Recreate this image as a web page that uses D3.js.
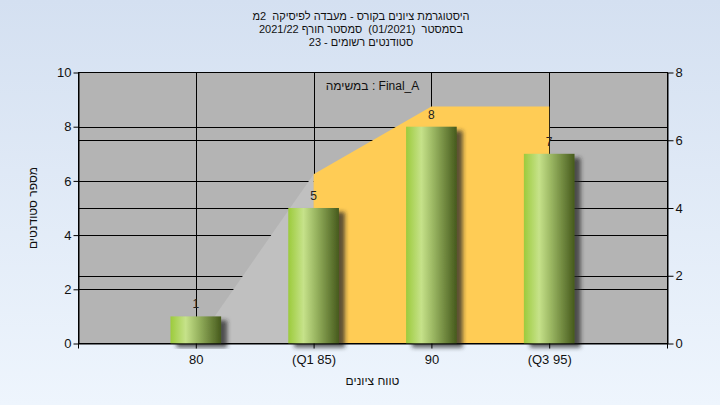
<!DOCTYPE html>
<html><head><meta charset="utf-8">
<script src="https://cdn.jsdelivr.net/npm/d3@7"></script>
<style>
html,body{margin:0;padding:0;}
svg{display:block;}
text{font-family:"Liberation Sans",Arial,sans-serif;white-space:pre;}
</style></head>
<body>
<svg id="chart" width="720" height="405"></svg>
<script>
// ---- data ----
const titleLines = [
  "היסטוגרמת ציונים בקורס - מעבדה לפיסיקה  2מ",
  "בסמסטר  (01/2021)  סמסטר חורף 2021/22",
  "סטודנטים רשומים - 23"
];
const legendText = "במשימה : Final_A";
const yTitle = "מספר סטודנטים";
const xTitle = "טווח ציונים";
const categories = [80, 85, 90, 95];
const tickLabels = ["80", "(Q1 85)", "90", "(Q3 95)"];
const counts = [1, 5, 8, 7];             // bars, left axis
const rangeValues = [0, 5, 7, 7];        // area, right axis
const q1 = 85, q3 = 95;
const xDomain = [75, 100];
const leftTicks = [0, 2, 4, 6, 8, 10];
const rightTicks = [0, 2, 4, 6, 8];

// ---- layout ----
const W = 720, H = 405;
const L = 78, R = 667, T = 72.5, B = 343.5;
const svg = d3.select("#chart");
const defs = svg.append("defs");

const bg = defs.append("linearGradient").attr("id","bg").attr("x1",0).attr("y1",0).attr("x2",0).attr("y2",1);
bg.append("stop").attr("offset","0%").attr("stop-color","#d4e0f1");
bg.append("stop").attr("offset","100%").attr("stop-color","#eef5fd");

const bar = defs.append("linearGradient").attr("id","bar").attr("x1",0).attr("y1",0).attr("x2",1).attr("y2",0);
[["0%","#9ccb3c"],["30%","#c6e28a"],["55%","#98b460"],["100%","#465a1c"]].forEach(s=>
  bar.append("stop").attr("offset",s[0]).attr("stop-color",s[1]));

const f = defs.append("filter").attr("id","sh").attr("x","-20%").attr("y","-20%").attr("width","160%").attr("height","140%");
f.append("feDropShadow").attr("dx",6).attr("dy",4).attr("stdDeviation",2.2)
  .attr("flood-color","#2a2a2a").attr("flood-opacity",0.75);

svg.append("rect").attr("width",W).attr("height",H).attr("fill","url(#bg)");

const x = d3.scaleLinear().domain(xDomain).range([L, R]);
const yL = d3.scaleLinear().domain([0, 10]).range([B, T]);
const yR = d3.scaleLinear().domain([0, 8]).range([B, T]);

// plot background
svg.append("rect").attr("x",L).attr("y",T).attr("width",R-L).attr("height",B-T).attr("fill","#b4b4b4");

// gridlines
const g = svg.append("g").attr("stroke","#000").attr("stroke-width",1);
leftTicks.slice(1,-1).forEach(v=>g.append("line").attr("x1",L).attr("x2",R)
  .attr("y1",Math.round(yL(v))+0.5).attr("y2",Math.round(yL(v))+0.5));
rightTicks.slice(1,-1).forEach(v=>g.append("line").attr("x1",L).attr("x2",R)
  .attr("y1",Math.round(yR(v))+0.5).attr("y2",Math.round(yR(v))+0.5));
categories.forEach(c=>g.append("line").attr("y1",T).attr("y2",B)
  .attr("x1",Math.round(x(c))+0.5).attr("x2",Math.round(x(c))+0.5));

// range area (right axis)
const pts = categories.map((c,i)=>({c, v:rangeValues[i]}));
const area = d3.area().x(d=>x(d.c)).y0(yR(0)).y1(d=>yR(d.v));
const outside = pts.filter(d=>d.c<=q1);
const inside = pts.filter(d=>d.c>=q1 && d.c<=q3);
svg.append("path").attr("d",area(outside)).attr("fill","#c0c0c0");
svg.append("path").attr("d",area(inside)).attr("fill","#ffcc55");

// border
svg.append("rect").attr("x",L+0.5).attr("y",T).attr("width",R-L).attr("height",B-T)
  .attr("fill","none").attr("stroke","#000");

// bars
const bw = (x(85)-x(80))*0.43;
svg.append("g").selectAll("rect").data(categories).join("rect")
  .attr("x",d=>x(d)-bw/2).attr("y",(d,i)=>yL(counts[i]))
  .attr("width",bw).attr("height",(d,i)=>yL(0)-yL(counts[i]))
  .attr("fill","url(#bar)").attr("filter","url(#sh)");

// bar labels
svg.append("g").selectAll("text").data(categories).join("text")
  .attr("x",d=>x(d)).attr("y",(d,i)=>yL(counts[i])-8)
  .attr("text-anchor","middle").attr("font-size",12).attr("fill","#222")
  .text((d,i)=>counts[i]);

// legend
svg.append("text").attr("x",(L+R)/2).attr("y",90).attr("text-anchor","middle")
  .attr("font-size",12).attr("fill","#111").text(legendText);

// axes
function style(sel){
  sel.selectAll("text").attr("font-size",13).attr("fill","#111").attr("font-family","Liberation Sans, Arial, sans-serif");
  sel.selectAll("line,path").attr("stroke","#000");
}
svg.append("g").attr("transform",`translate(${L+0.5},0)`)
  .call(d3.axisLeft(yL).tickValues(leftTicks).tickFormat(d3.format("d")).tickSize(5).tickSizeOuter(0).tickPadding(2))
  .call(style);
svg.append("g").attr("transform",`translate(${R+0.5},0)`)
  .call(d3.axisRight(yR).tickValues(rightTicks).tickFormat(d3.format("d")).tickSize(6).tickSizeOuter(0).tickPadding(2))
  .call(style);
const xt = [xDomain[0], ...categories, xDomain[1]];
svg.append("g").attr("transform",`translate(0,${B})`)
  .call(d3.axisBottom(x).tickValues(xt).tickFormat(d=>{const i=categories.indexOf(d);return i<0?"":tickLabels[i];})
    .tickSize(5).tickSizeOuter(0).tickPadding(6))
  .call(style);

// titles
titleLines.forEach((t,i)=>svg.append("text").attr("x",361).attr("y",20+i*13)
  .attr("text-anchor","middle").attr("direction","rtl").attr("font-size",11).attr("fill","#111").text(t));
svg.append("text").attr("transform",`translate(37,${(T+B)/2}) rotate(-90)`)
  .attr("text-anchor","middle").attr("direction","rtl").attr("font-size",12).attr("fill","#111").text(yTitle);
svg.append("text").attr("x",(L+R)/2).attr("y",385).attr("text-anchor","middle")
  .attr("direction","rtl").attr("font-size",12).attr("fill","#111").text(xTitle);
</script>
</body></html>
